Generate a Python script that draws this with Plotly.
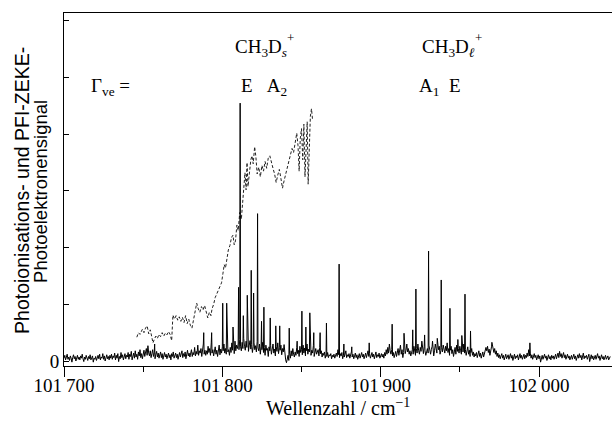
import numpy as np
import plotly.graph_objects as go

# ---------------- data ----------------
# PFI-ZEKE baseline / noise, sampled every 0.5 cm-1 starting at 101700 cm-1
wn_start = 101700.0
wn_step = 0.5
base_y = [
    0.05,0.10,0.02,0.08,0.12,0.03,0.07,0.01,0.09,0.05,-0.02,0.06,0.11,0.04,0.08,0.00,0.06,0.10,0.03,0.07,
    0.02,0.09,0.05,0.12,0.04,-0.01,0.07,0.03,0.10,0.06,0.01,0.08,0.04,0.11,0.02,0.06,0.09,-0.02,0.05,0.03,
    0.08,0.01,0.06,0.10,0.04,0.12,0.02,0.07,0.05,0.13,0.03,0.09,0.00,0.06,0.11,0.04,0.08,0.02,0.10,0.05,
    0.12,0.03,0.09,0.06,0.14,0.02,0.10,0.05,0.13,-0.01,0.08,0.04,0.15,0.06,0.11,0.02,0.09,0.13,0.04,0.10,
    0.07,0.15,0.03,0.12,0.08,0.17,0.02,0.10,0.14,0.05,0.18,0.07,0.12,0.03,0.16,0.09,0.20,0.06,0.13,0.04,
    0.11,0.19,0.08,0.16,0.22,0.10,0.27,0.14,0.09,0.18,0.06,0.13,0.20,0.08,0.15,0.04,0.12,0.17,0.07,0.14,
    0.05,0.11,0.16,0.06,0.13,0.03,0.10,0.15,0.07,0.12,0.04,0.09,0.14,0.06,0.11,0.02,0.13,0.08,0.16,0.05,
    0.10,0.14,0.06,0.12,0.03,0.09,0.15,0.07,0.11,0.18,0.06,0.13,0.08,0.16,0.04,0.12,0.19,0.09,0.14,0.07,
    0.13,0.20,0.08,0.15,0.11,0.24,0.09,0.17,0.12,0.28,0.10,0.18,0.14,0.22,0.08,0.16,0.30,0.12,0.19,0.10,
    0.18,0.12,0.26,0.15,0.22,0.10,0.32,0.14,0.20,0.09,0.17,0.25,0.12,0.19,0.08,0.16,0.28,0.11,0.21,0.14,
    0.25,0.18,0.30,0.14,0.22,0.12,0.27,0.16,0.20,0.10,0.24,0.15,0.32,0.19,0.26,0.13,0.35,0.18,0.28,0.22,
    0.30,0.20,0.38,0.25,0.18,0.33,0.22,0.40,0.26,0.19,0.35,0.24,0.30,0.17,0.28,0.36,0.21,0.29,0.15,0.25,
    0.32,0.20,0.27,0.16,0.34,0.23,0.18,0.30,0.12,0.26,0.20,0.33,0.15,0.24,0.10,0.28,0.19,0.22,0.08,0.25,
    0.18,0.27,0.12,0.23,0.30,0.14,0.21,0.09,0.26,0.17,0.32,0.13,0.24,0.19,0.28,0.11,0.22,0.16,0.29,0.13,
    0.02,-0.03,0.06,0.10,0.01,0.14,0.05,0.18,0.09,0.22,0.12,0.07,0.16,0.10,0.24,0.13,0.19,0.08,0.26,0.15,
    0.20,0.11,0.28,0.14,0.23,0.09,0.18,0.30,0.12,0.21,0.16,0.25,0.10,0.19,0.14,0.27,0.08,0.17,0.22,0.12,
    0.15,0.20,0.09,0.24,0.13,0.18,0.07,0.14,0.10,0.16,0.05,0.12,0.08,0.15,0.06,0.11,0.09,0.13,0.04,0.10,
    0.07,0.12,0.05,0.10,0.14,0.08,0.20,0.11,0.06,0.13,0.09,0.15,0.04,0.10,0.07,0.12,0.18,0.06,0.11,0.08,
    0.13,0.05,0.10,0.16,0.07,0.12,0.04,0.09,0.14,0.06,0.11,0.03,0.08,0.13,0.05,0.10,0.15,0.07,0.12,0.04,
    0.09,0.14,0.06,0.11,0.18,0.08,0.13,0.05,0.10,0.15,0.07,0.12,0.04,0.09,0.16,0.06,0.11,0.08,0.14,0.05,
    0.10,0.13,0.07,0.12,0.05,0.15,0.09,0.20,0.12,0.24,0.14,0.30,0.18,0.12,0.20,0.09,0.15,0.06,0.12,0.17,
    0.08,0.14,0.22,0.10,0.18,0.28,0.12,0.20,0.06,0.15,0.25,0.13,0.19,0.30,0.16,0.22,0.12,0.18,0.09,0.15,
    0.20,0.12,0.26,0.16,0.10,0.22,0.14,0.30,0.18,0.12,0.24,0.17,0.35,0.20,0.13,0.26,0.18,0.10,0.16,0.22,
    0.14,0.28,0.18,0.12,0.20,0.26,0.15,0.09,0.18,0.30,0.22,0.14,0.35,0.20,0.26,0.12,0.18,0.24,0.16,0.28,
    0.20,0.14,0.26,0.18,0.32,0.15,0.22,0.10,0.19,0.26,0.13,0.20,0.08,0.16,0.24,0.12,0.28,0.17,0.22,0.14,
    0.26,0.18,0.12,0.22,0.16,0.30,0.14,0.20,0.10,0.17,0.25,0.12,0.19,0.08,0.15,0.22,0.10,0.16,0.07,0.13,
    0.09,0.15,0.06,0.12,0.18,0.08,0.14,0.05,0.11,0.16,0.07,0.13,0.20,0.24,0.18,0.26,0.15,0.21,0.10,0.16,
    0.25,0.30,0.20,0.15,0.22,0.12,0.18,0.08,0.14,0.06,0.11,0.04,0.09,0.13,0.05,0.10,0.02,0.08,0.12,0.04,
    0.07,0.11,0.03,0.09,0.13,0.05,0.10,0.01,0.08,0.12,0.04,0.09,0.06,0.11,0.02,0.08,0.13,0.05,0.10,0.03,
    0.08,0.12,0.04,0.10,0.06,0.14,0.08,0.20,0.09,0.14,0.05,0.11,0.03,0.09,0.13,0.06,0.10,0.02,0.07,0.11,
    0.04,0.09,-0.02,0.06,0.10,0.03,0.08,0.12,0.05,0.09,0.01,0.07,0.11,0.04,0.08,0.02,0.10,0.05,0.09,0.03,
    0.07,0.12,0.04,0.09,0.14,0.06,0.17,0.08,0.13,0.05,0.10,0.15,0.06,0.11,0.03,0.08,0.12,0.05,0.09,0.02,
    0.06,0.10,0.03,0.08,0.12,0.04,0.09,0.01,0.07,0.11,0.05,0.13,0.06,0.10,0.02,0.08,0.14,0.04,0.09,0.06,
    0.10,0.03,0.08,0.12,-0.01,0.07,0.11,0.04,0.09,0.02,0.06,0.10,0.03,0.08,0.13,0.05,0.09,0.01,0.07,0.11,
    0.04,0.08,0.02,0.07,0.10,0.03,0.06,0.09,0.02,0.05,0.08,
]

# PFI-ZEKE lines (position / cm-1, height)
peak_x = [101757.25, 101788.25, 101793.25, 101800.25, 101802.75, 101806.75, 101810.25, 101811.25,
          101813.25, 101815.75, 101818.25, 101819.75, 101822.25, 101824.75, 101826.25, 101830.25,
          101833.75, 101836.25, 101842.25, 101847.25, 101850.25, 101852.75, 101855.25, 101857.75,
          101861.75, 101865.75, 101873.75, 101876.75, 101881.75, 101892.75, 101907.25, 101914.75,
          101920.25, 101922.25, 101927.75, 101930.25, 101932.75, 101935.75, 101938.25, 101943.75,
          101948.75, 101951.25, 101953.25, 101956.75, 101970.25, 101994.25]
peak_y = [0.30, 0.50, 0.50, 1.02, 1.02, 0.60, 1.30, 4.55,
          0.80, 1.16, 1.60, 1.20, 2.60, 0.70, 0.95, 0.76,
          0.62, 0.62, 0.58, 0.35, 0.88, 0.60, 0.85, 0.50,
          0.50, 0.67, 1.71, 0.30, 0.25, 0.32, 0.65, 0.49,
          0.55, 1.27, 0.46, 1.94, 0.35, 0.40, 1.43, 0.93,
          0.38, 0.45, 1.18, 0.53, 0.33, 0.32]

# photoionisation signal (dashed)
dash_x = [101746.0, 101747.0, 101748.0, 101749.5, 101750.5, 101751.5, 101752.5, 101753.5, 101754.5,
          101755.5, 101756.2, 101757.0, 101758.0, 101759.0, 101760.0, 101761.0, 101762.0, 101763.0,
          101764.0, 101765.0, 101766.0, 101767.0, 101768.0, 101768.8, 101769.8, 101770.8, 101771.8,
          101772.8, 101773.8, 101774.8, 101775.8, 101776.8, 101777.8, 101778.8, 101779.8, 101780.8,
          101781.8, 101782.8, 101783.8, 101784.8, 101785.8, 101786.8, 101787.8, 101788.8, 101789.8,
          101790.8, 101791.8, 101792.8, 101793.5, 101794.5, 101795.5, 101796.5, 101797.5, 101798.5,
          101799.5, 101800.4, 101801.2, 101802.0, 101802.9, 101803.8, 101804.8, 101805.8, 101806.7,
          101807.5, 101808.3, 101809.2, 101810.0, 101811.0, 101812.0, 101813.0, 101813.7, 101814.3,
          101815.0, 101815.6, 101816.2, 101817.0, 101818.0, 101818.7, 101819.5, 101820.4, 101821.2,
          101822.0, 101823.0, 101824.0, 101825.0, 101826.0, 101827.0, 101828.0, 101829.0, 101830.0,
          101831.0, 101832.0, 101833.0, 101834.0, 101835.0, 101836.0, 101837.0, 101838.0, 101839.0,
          101840.0, 101841.0, 101842.0, 101843.0, 101844.0, 101845.0, 101846.0, 101847.0, 101847.8,
          101848.5, 101849.2, 101850.0, 101850.8, 101851.5, 101852.2, 101853.0, 101853.6, 101854.2,
          101855.0, 101855.6, 101856.3, 101857.0]
dash_y = [0.42, 0.50, 0.47, 0.56, 0.50, 0.58, 0.62, 0.48, 0.55,
          0.40, 0.32, 0.38, 0.44, 0.40, 0.47, 0.43, 0.50, 0.44,
          0.49, 0.46, 0.52, 0.47, 0.36, 0.81, 0.74, 0.80, 0.72,
          0.78, 0.70, 0.77, 0.68, 0.80, 0.66, 0.74, 0.63, 0.58,
          0.72, 0.84, 1.02, 0.92, 0.86, 0.96, 0.90, 0.98, 0.84,
          0.76, 0.86, 0.80, 0.92, 1.00, 1.12, 1.18, 1.25, 1.30,
          1.38, 1.55, 1.70, 1.64, 1.82, 1.96, 2.04, 2.18, 2.22,
          2.05, 2.12, 2.40, 2.30, 2.62, 2.50, 2.86, 3.10, 3.32,
          3.02, 3.50, 3.08, 3.35, 3.55, 3.62, 3.48, 3.78, 3.60,
          3.30, 3.42, 3.25, 3.45, 3.35, 3.52, 3.40, 3.58, 3.62,
          3.48, 3.40, 3.30, 3.15, 3.28, 3.38, 3.22, 3.05, 3.18,
          3.30, 3.42, 3.50, 3.62, 3.75, 3.68, 3.90, 4.02, 3.80,
          3.35, 3.92, 4.10, 3.55, 4.18, 3.25, 3.85, 4.22, 3.12,
          4.05, 4.32, 4.45, 4.25]

x_tickvals = [101700, 101800, 101900, 102000]
x_ticktext = ["101\u2009700", "101\u2009800", "101\u2009900", "102\u2009000"]
x_minor = [101750, 101850, 101950]
y_tickvals = [0, 1, 2, 3, 4, 5, 6]
y_ticktext = ["0", "", "", "", "", "", ""]

# ---------------- figure ----------------
base_x = wn_start + wn_step * np.arange(len(base_y))
sx = np.concatenate([base_x, np.array(peak_x)])
sy = np.concatenate([np.array(base_y), np.array(peak_y)])
order = np.argsort(sx)

SERIF = "Liberation Serif"
SANS = "Liberation Sans"

fig = go.Figure()
fig.add_trace(go.Scatter(x=dash_x, y=dash_y, mode="lines",
                         line=dict(color="#222222", width=1, dash="3px,2px"),
                         hoverinfo="skip"))
fig.add_trace(go.Scatter(x=sx[order], y=sy[order], mode="lines",
                         line=dict(color="black", width=1), hoverinfo="skip"))

fig.update_layout(
    width=612, height=423,
    margin=dict(l=64, r=0, t=13, b=57, autoexpand=False),
    paper_bgcolor="white", plot_bgcolor="white",
    showlegend=False,
    font=dict(family=SERIF, size=19, color="black"),
    xaxis=dict(range=[101700, 102046.1], showline=True, linecolor="black", linewidth=1,
               mirror=True, ticks="outside", ticklen=10, tickcolor="black",
               tickvals=x_tickvals, ticktext=x_ticktext, ticklabelstandoff=-8,
               tickfont=dict(family=SERIF, size=19, color="black"),
               minor=dict(tickvals=x_minor, ticks="outside", ticklen=5, tickcolor="black"),
               showgrid=False, zeroline=False),
    yaxis=dict(range=[-0.088, 6.14], showline=True, linecolor="black", linewidth=1,
               ticks="inside", ticklen=5, tickcolor="black",
               tickvals=y_tickvals, ticktext=y_ticktext,
               tickfont=dict(family=SERIF, size=19, color="black"),
               showgrid=False, zeroline=False),
)

def ann(text, x, y, xanchor="left", size=19, family=SERIF, angle=0):
    fig.add_annotation(text=text, x=x, y=y, xref="paper", yref="paper",
                       xanchor=xanchor, yanchor="middle", showarrow=False,
                       textangle=angle, font=dict(family=family, size=size, color="black"))

ann("CH<sub>3</sub>D<sub><i>s</i></sub>", 0.308, 0.900)
ann("+", 0.414, 0.932, xanchor="center", size=13)
ann("\u0393<sub>ve</sub> =", 0.046, 0.790)
ann("E\u2002\u2005A<sub>2</sub>", 0.320, 0.790)
ann("CH<sub>3</sub>D<sub><i>\u2113</i></sub>", 0.650, 0.900)
ann("+", 0.756, 0.932, xanchor="center", size=13)
ann("A<sub>1</sub>\u2002E", 0.645, 0.790)
ann("Wellenzahl / cm<sup>\u22121</sup>", 0.500, -0.116, xanchor="center", size=20)
ann("Photoionisations- und PFI-ZEKE-", -0.0766, 0.496, xanchor="center",
    size=19.5, family=SANS, angle=-90)
ann("Photoelektronensignal", -0.042, 0.496, xanchor="center",
    size=18.5, family=SANS, angle=-90)

fig.write_html("out.html", config={"displayModeBar": False},
               post_script="document.body.style.margin='0';document.body.style.overflow='hidden';")
